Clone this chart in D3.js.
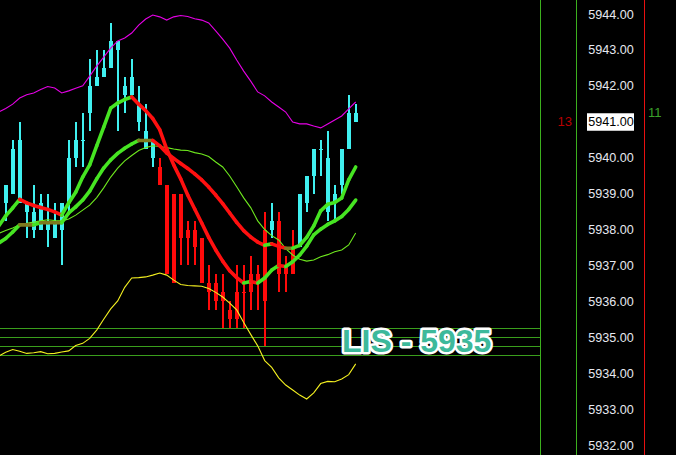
<!DOCTYPE html>
<html><head><meta charset="utf-8">
<script src="https://cdn.jsdelivr.net/npm/d3@7"></script>
<style>html,body{margin:0;padding:0;background:#000;overflow:hidden}</style>
</head><body>
<svg id="c" width="676" height="455"></svg>
<script>
// ---------- data ----------
const priceTicks = [5932,5933,5934,5935,5936,5937,5938,5939,5940,5941,5942,5943,5944];
const lisLevels = [5935.25, 5935.0, 5934.75, 5934.5];
const lisLabel = "LIS - 5935";
const lastPrice = 5941.00;
const counterLeft = "13";
const counterRight = "11";

// candles, bar index 0..50
const trend = [1,1,1,1,1,1,1,1,1,1,1,1,1,1,1,1,1,1,1,1,1,1,
  -1,-1,-1,-1,-1,-1,-1,-1,-1,-1,-1,-1,-1,-1,-1,-1, 1, -1,-1,-1, 1,1,1,1,1,1,1,1,1];
const opens = [5938.75,5939,5938.75,5938.5,5938,5938,5938,5937.75,5938,5938.75,5940,5940.5,5941.25,5942,5942.25,5942.5,5943,5941.75,5941.75,5941,5940.25,5940,
  5939.75,5939.25,5939,5939,5938,5938,5937.75,5936.5,5936.5,5936.25,5935.75,5936.25,5936.25,5936.75,5936.75,5938,5938,5938.25,5937,5937.5,
  5937.5,5938.75,5939.5,5940.25,5938.5,5938.75,5939.25,5940.25,5941.25];
const highs = [5939.25,5940.5,5941,5938.75,5939.25,5939,5939,5938.75,5938.75,5940.5,5941,5941.25,5942.75,5943,5943,5943.75,5943.25,5942.25,5942.75,5942,5941.5,5940.5,
  5940,5939.25,5939,5939,5938.25,5938.25,5937.75,5937,5936.75,5936.75,5936,5937,5937,5937.25,5937,5938.5,5938.75,5938.5,5937.25,5938,
  5939,5939.5,5940.25,5940.5,5940.75,5939.25,5940.25,5941.75,5941.5];
const lows = [5938.25,5939,5938.75,5937.75,5937.75,5938,5937.5,5937.75,5937,5938.5,5939.75,5939.75,5940.75,5942,5942.25,5942.5,5940.75,5941.25,5941.75,5940.75,5940.25,5939.75,
  5939.25,5936.75,5936.5,5937,5937,5937,5936.5,5935.75,5935.75,5935.25,5935.25,5935.25,5935.25,5935.75,5935.75,5934.75,5937.75,5936.25,5936.25,5936.75,
  5937.5,5938.5,5939,5939.5,5938.25,5938.25,5939,5940.25,5941];
const closes = [5939.25,5940.25,5940.5,5938.75,5938.5,5938.75,5938.25,5938.25,5938.75,5940,5940.5,5940.5,5942,5942.25,5942.5,5943.25,5943.25,5942,5942.25,5941.5,5940.75,5940.5,
  5939.25,5936.75,5936.5,5937.75,5937.75,5937.5,5936.5,5936.25,5936,5936,5935.5,5935.5,5936.25,5936.25,5936.5,5936,5938.25,5936.75,5936.75,5936.75,
  5939,5939.5,5940.25,5940.25,5940,5939,5940.25,5941.25,5941];

// indicator lines, bar index -1..50
const upperBand = [5941.27,5941.37,5941.49,5941.66,5941.75,5941.80,5941.90,5941.98,5941.94,5941.80,5941.86,5941.93,5942.00,5942.27,5942.55,5942.80,5943.05,5943.25,5943.33,5943.47,5943.69,5943.86,5943.97,5943.92,5943.83,5943.92,5943.96,5943.93,5943.87,5943.83,5943.75,5943.53,5943.30,5943.05,5942.72,5942.41,5942.13,5941.83,5941.72,5941.55,5941.41,5941.27,5940.99,5940.94,5940.94,5940.88,5940.83,5940.94,5941.05,5941.16,5941.36,5941.55];
const lowerBand = [5934.48,5934.58,5934.66,5934.61,5934.55,5934.57,5934.60,5934.54,5934.55,5934.59,5934.62,5934.77,5934.83,5934.97,5935.20,5935.50,5935.79,5936.01,5936.39,5936.65,5936.66,5936.68,5936.73,5936.79,5936.73,5936.59,5936.47,5936.44,5936.43,5936.42,5936.36,5936.25,5936.12,5935.95,5935.76,5935.41,5935.08,5934.76,5934.35,5934.16,5933.87,5933.67,5933.53,5933.39,5933.28,5933.45,5933.71,5933.77,5933.76,5933.84,5933.96,5934.26];
const midBand = [5937.89,5937.97,5938.04,5938.13,5938.17,5938.21,5938.24,5938.27,5938.25,5938.24,5938.29,5938.40,5938.54,5938.68,5938.89,5939.16,5939.46,5939.71,5939.91,5940.06,5940.20,5940.28,5940.33,5940.31,5940.28,5940.24,5940.21,5940.20,5940.14,5940.10,5940.03,5939.88,5939.74,5939.49,5939.19,5938.88,5938.61,5938.24,5938.00,5937.83,5937.71,5937.47,5937.29,5937.17,5937.12,5937.15,5937.24,5937.30,5937.38,5937.43,5937.57,5937.90];
const fastLine = [5938.10,5938.38,5938.60,5938.84,5938.74,5938.67,5938.61,5938.56,5938.49,5938.40,5938.74,5939.04,5939.46,5939.80,5940.33,5940.85,5941.38,5941.52,5941.62,5941.69,5941.49,5941.31,5941.09,5940.78,5940.24,5939.80,5939.41,5938.96,5938.57,5938.18,5937.78,5937.43,5937.12,5936.85,5936.66,5936.51,5936.55,5936.51,5936.65,5936.87,5937.00,5936.97,5937.10,5937.29,5937.54,5937.85,5938.01,5938.14,5938.24,5938.36,5938.56,5938.82];
const slowLine = [5937.62,5937.75,5937.93,5938.13,5938.13,5938.13,5938.19,5938.19,5938.19,5938.19,5938.46,5938.63,5938.82,5939.07,5939.41,5939.71,5939.94,5940.12,5940.26,5940.38,5940.48,5940.48,5940.48,5940.33,5940.13,5939.98,5939.84,5939.70,5939.55,5939.38,5939.18,5938.96,5938.72,5938.46,5938.20,5937.97,5937.79,5937.65,5937.56,5937.60,5937.53,5937.48,5937.48,5937.56,5937.78,5938.10,5938.52,5938.70,5938.75,5938.88,5939.38,5939.74];

// ---------- drawing ----------
const W = 676, H = 455;
const svg = d3.select('#c');
svg.append('rect').attr('width', W).attr('height', H).attr('fill', '#000');

const x = d3.scaleLinear().domain([0, 50]).range([5.7, 355.7]);
const y = d3.scaleLinear().domain([5932, 5944]).range([445, 14]);
const lineIdx = d3.range(-1, 51);

const plot = svg.append('g');

// LIS horizontal levels
plot.selectAll('line.lis').data(lisLevels).join('line')
  .attr('x1', 0).attr('x2', 540)
  .attr('y1', d => Math.round(y(d)) + 0.5).attr('y2', d => Math.round(y(d)) + 0.5)
  .attr('stroke', '#3a9e1c').attr('stroke-width', 1);

// candles
const candleG = plot.append('g').attr('shape-rendering', 'crispEdges');
const candles = d3.range(0, 51).map(i => ({i, o: opens[i], h: highs[i], l: lows[i], c: closes[i], t: trend[i]}));
const col = d => d.t > 0 ? '#40f0f0' : '#ff0a0a';
candleG.selectAll('rect.wick').data(candles).join('rect')
  .attr('x', d => Math.round(x(d.i)) - 1).attr('width', 2)
  .attr('y', d => Math.round(y(d.h)))
  .attr('height', d => Math.max(1, Math.round(y(d.l)) - Math.round(y(d.h))))
  .attr('fill', col);
candleG.selectAll('rect.body').data(candles).join('rect')
  .attr('x', d => Math.round(x(d.i)) - 2).attr('width', 4)
  .attr('y', d => Math.round(y(Math.max(d.o, d.c))))
  .attr('height', d => Math.max(1, Math.round(y(Math.min(d.o, d.c))) - Math.round(y(Math.max(d.o, d.c)))))
  .attr('fill', col);

// thin lines
function thin(vals, color) {
  plot.append('path')
    .datum(lineIdx.map((k, j) => [k, vals[j]]))
    .attr('fill', 'none').attr('stroke', color).attr('stroke-width', 1.1)
    .attr('d', d3.line().x(d => x(d[0])).y(d => y(d[1])));
}
thin(upperBand, '#e600e6');
thin(lowerBand, '#f4f020');
thin(midBand, '#6ee81e');

// thick slope-coloured lines
function thick(vals) {
  const segs = [];
  for (let j = 0; j < vals.length - 1; j++) {
    const dv = vals[j + 1] - vals[j];
    const c = dv > 0.005 ? '#46e422' : (dv < -0.005 ? '#ff1010' : '#7d7a1f');
    segs.push({a: [lineIdx[j], vals[j]], b: [lineIdx[j + 1], vals[j + 1]], c});
  }
  plot.append('g').selectAll('line').data(segs).join('line')
    .attr('x1', d => x(d.a[0])).attr('y1', d => y(d.a[1]))
    .attr('x2', d => x(d.b[0])).attr('y2', d => y(d.b[1]))
    .attr('stroke', d => d.c).attr('stroke-width', 3.6).attr('stroke-linecap', 'round');
}
thick(slowLine);
thick(fastLine);

// LIS label
svg.append('text')
  .attr('x', 342).attr('y', 352)
  .attr('font-family', '"Liberation Sans", Arial, sans-serif')
  .attr('font-weight', 'bold').attr('font-size', 32)
  .attr('fill', '#3db99b').attr('stroke', '#ffffff').attr('stroke-width', 5)
  .attr('stroke-linejoin', 'round').attr('paint-order', 'stroke')
  .text(lisLabel);

// right panel separators
svg.append('line').attr('x1', 540.5).attr('x2', 540.5).attr('y1', 0).attr('y2', H).attr('stroke', '#3cb01e');
svg.append('line').attr('x1', 576.5).attr('x2', 576.5).attr('y1', 0).attr('y2', H).attr('stroke', '#3cb01e');
svg.append('line').attr('x1', 644.5).attr('x2', 644.5).attr('y1', 0).attr('y2', H).attr('stroke', '#e81010');

// last price box
svg.append('rect').attr('x', 587).attr('y', y(lastPrice) - 8.5).attr('width', 47).attr('height', 17.5).attr('fill', '#ffffff');

// price axis
const axis = d3.axisRight(y).tickValues(priceTicks).tickFormat(d3.format('.2f')).tickSize(0).tickPadding(0);
const ag = svg.append('g').attr('transform', 'translate(611,0)').call(axis);
ag.select('.domain').remove();
ag.selectAll('text')
  .attr('x', 0).attr('text-anchor', 'middle')
  .attr('font-family', '"Liberation Sans", Arial, sans-serif').attr('font-size', 12.6)
  .attr('fill', d => d === lastPrice ? '#000000' : '#e6e8f0');

// counters
svg.append('text').attr('x', 572).attr('y', y(lastPrice) + 4.5).attr('text-anchor', 'end')
  .attr('font-family', '"Liberation Sans", Arial, sans-serif').attr('font-size', 13)
  .attr('fill', '#b80000').text(counterLeft);
svg.append('text').attr('x', 648).attr('y', y(lastPrice) - 5).attr('text-anchor', 'start')
  .attr('font-family', '"Liberation Sans", Arial, sans-serif').attr('font-size', 13)
  .attr('fill', '#3aa02a').text(counterRight);
</script>
</body></html>
